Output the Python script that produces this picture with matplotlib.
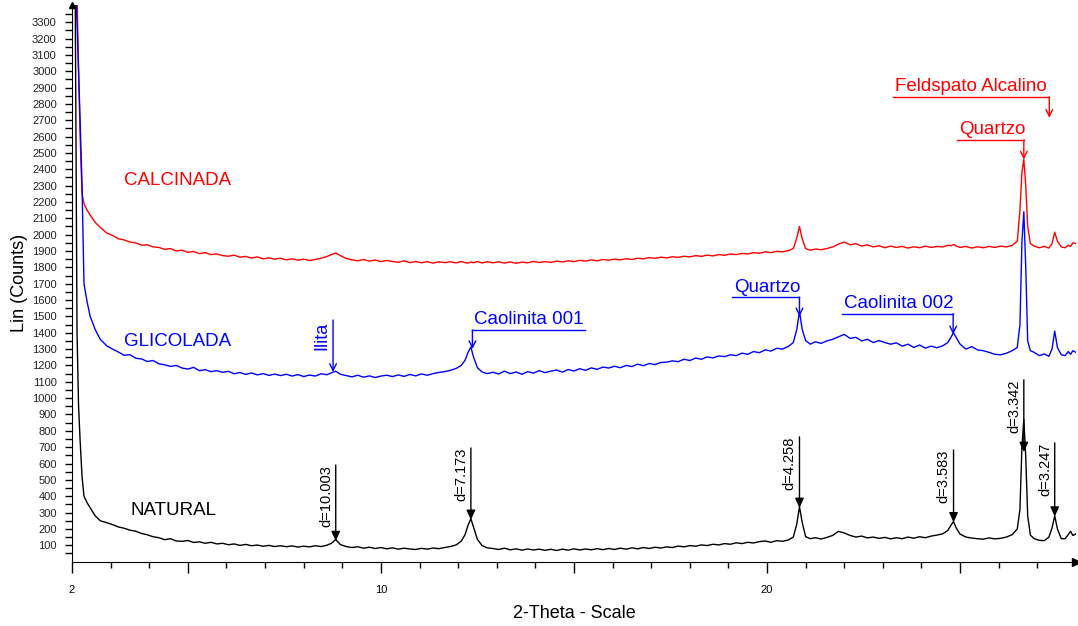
import numpy as np
import matplotlib
matplotlib.use('Agg')
import matplotlib.pyplot as plt

plt.rcParams['font.family'] = ['Liberation Sans', 'DejaVu Sans']

# 2-theta positions (deg), 10 per row
two_theta = [
    2.08, 2.13, 2.17, 2.21, 2.26, 2.31, 2.39, 2.47, 2.60, 2.73,
    2.90, 3.05, 3.20, 3.35, 3.50, 3.65, 3.80, 3.95, 4.10, 4.25,
    4.40, 4.55, 4.70, 4.85, 5.00, 5.15, 5.30, 5.45, 5.60, 5.75,
    5.90, 6.05, 6.20, 6.35, 6.50, 6.65, 6.80, 6.95, 7.10, 7.25,
    7.40, 7.55, 7.70, 7.85, 8.00, 8.15, 8.30, 8.45, 8.60, 8.72,
    8.83, 8.95, 9.10, 9.25, 9.40, 9.55, 9.70, 9.85, 10.00, 10.15,
    10.30, 10.45, 10.60, 10.75, 10.90, 11.05, 11.20, 11.35, 11.50, 11.65,
    11.80, 11.95, 12.08, 12.18, 12.26, 12.33, 12.40, 12.50, 12.62, 12.75,
    12.90, 13.05, 13.20, 13.35, 13.50, 13.65, 13.80, 13.95, 14.10, 14.25,
    14.40, 14.55, 14.70, 14.85, 15.00, 15.15, 15.30, 15.45, 15.60, 15.75,
    15.90, 16.05, 16.20, 16.35, 16.50, 16.65, 16.80, 16.95, 17.10, 17.25,
    17.40, 17.55, 17.70, 17.85, 18.00, 18.15, 18.30, 18.45, 18.60, 18.75,
    18.90, 19.05, 19.20, 19.35, 19.50, 19.65, 19.80, 19.95, 20.10, 20.25,
    20.40, 20.55, 20.68, 20.77, 20.84, 20.91, 21.00, 21.12, 21.25, 21.40,
    21.55, 21.70, 21.85, 22.00, 22.15, 22.30, 22.45, 22.60, 22.75, 22.90,
    23.05, 23.20, 23.35, 23.50, 23.65, 23.80, 23.95, 24.10, 24.25, 24.40,
    24.55, 24.68, 24.77, 24.83, 24.90, 25.00, 25.15, 25.30, 25.45, 25.60,
    25.75, 25.90, 26.05, 26.20, 26.35, 26.48, 26.55, 26.60, 26.65, 26.70,
    26.75, 26.82, 26.92, 27.05, 27.18, 27.30, 27.38, 27.45, 27.52, 27.62,
    27.72, 27.80, 27.86, 27.92, 28.00,
]

natural = [
    3600, 1400, 950, 740, 520, 400, 360, 330, 280, 250,
    238, 226, 212, 204, 192, 186, 172, 164, 152, 146,
    134, 140, 126, 124, 129, 117, 121, 112, 118, 108,
    112, 103, 108, 99, 105, 97, 101, 94, 99, 92,
    97, 91, 96, 89, 94, 90, 97, 92, 100, 112,
    135, 104, 92, 86, 91, 82, 88, 80, 86, 78,
    84, 76, 82, 77, 74, 81, 76, 83, 79, 86,
    92, 102, 125, 165, 225, 262, 210, 135, 98, 84,
    80, 74, 82, 72, 78, 70, 77, 71, 76, 69,
    75, 68, 76, 70, 78, 71, 77, 72, 79, 73,
    80, 74, 82, 76, 84, 78, 86, 80, 88, 83,
    90, 86, 95, 90, 98, 94, 102, 98, 106, 102,
    110, 106, 115, 110, 118, 114, 122, 126, 118, 128,
    124, 132, 150, 230, 335, 240, 152, 140, 146, 138,
    148, 160, 185, 175, 160, 150, 156, 145, 150, 142,
    148, 139, 146, 140, 150, 143, 152, 146, 156, 162,
    170, 190, 225, 245, 205, 168, 150, 144, 140, 137,
    145, 139, 142, 150, 165, 200, 320, 700, 870, 640,
    280, 162, 140, 130, 128, 150, 205, 280, 200, 140,
    140, 165, 185, 160, 170,
]

glicolada = [
    3600, 3300, 3000, 2700, 2300, 1700, 1590, 1500, 1420, 1360,
    1320, 1300, 1282, 1262, 1266, 1244, 1240, 1224, 1230, 1210,
    1204, 1194, 1200, 1184, 1178, 1188, 1168, 1174, 1162, 1168,
    1158, 1164, 1149, 1157, 1145, 1154, 1142, 1150, 1139, 1147,
    1138, 1146, 1135, 1144, 1132, 1141, 1135, 1149, 1143, 1155,
    1165, 1146, 1138, 1130, 1140, 1128, 1136, 1126, 1135, 1140,
    1132, 1142, 1133, 1145, 1136, 1148, 1140, 1150, 1157, 1162,
    1170, 1182, 1200, 1232, 1282, 1312, 1250, 1186, 1160, 1150,
    1158, 1148, 1165, 1150, 1160, 1146, 1162, 1153, 1168, 1156,
    1165, 1172, 1159, 1175, 1166, 1180, 1170, 1185, 1176, 1190,
    1184, 1195, 1186, 1200, 1193, 1208, 1198, 1212, 1205, 1218,
    1220, 1228, 1223, 1238, 1230, 1245, 1238, 1252, 1246, 1258,
    1254, 1265, 1260, 1275, 1268, 1285, 1278, 1295, 1288, 1305,
    1300, 1316, 1340, 1420, 1530, 1420, 1352, 1330, 1345, 1335,
    1350, 1360, 1375, 1390, 1365, 1372, 1350, 1360, 1340, 1352,
    1340, 1330, 1338, 1318, 1330, 1310, 1325, 1306, 1318, 1308,
    1320, 1340, 1375, 1400, 1370, 1330, 1300, 1315, 1295, 1290,
    1280, 1268, 1265, 1275, 1290, 1310, 1450, 1950, 2140, 1800,
    1350, 1290, 1280, 1260, 1270, 1256, 1300, 1410, 1310, 1265,
    1260, 1285, 1268, 1290, 1280,
]

calcinada = [
    3600, 3450, 3000, 2600, 2250, 2190, 2150, 2120, 2075, 2045,
    2010, 1995, 1975, 1968, 1955, 1950, 1936, 1938, 1925, 1922,
    1910, 1915, 1900, 1905, 1892, 1897, 1884, 1890, 1878, 1882,
    1872, 1868, 1875, 1862, 1867, 1857, 1864, 1852, 1858, 1850,
    1856, 1846, 1852, 1844, 1850, 1842, 1848, 1856, 1866, 1878,
    1888, 1872, 1855, 1846, 1840, 1848, 1838, 1845, 1835, 1842,
    1836, 1831, 1840, 1829, 1836, 1828, 1835, 1826, 1834, 1829,
    1834, 1827, 1836, 1829, 1826, 1833, 1828, 1836, 1827, 1834,
    1828, 1834, 1826, 1833, 1825, 1832, 1828, 1836, 1830, 1835,
    1830, 1838, 1833, 1840, 1835, 1843, 1838, 1846, 1840, 1848,
    1844, 1850, 1846, 1853, 1848, 1856, 1852, 1860, 1855, 1862,
    1858, 1865, 1861, 1868, 1864, 1872, 1867, 1875, 1870, 1878,
    1874, 1882, 1878, 1885, 1882, 1890, 1886, 1895, 1890, 1898,
    1895, 1902, 1915, 1980, 2050, 1975, 1915, 1905, 1912, 1908,
    1915, 1925, 1942, 1955, 1938, 1945, 1930, 1938, 1925, 1932,
    1920, 1930, 1922, 1928, 1918, 1926, 1920, 1930, 1922, 1928,
    1925, 1935, 1932, 1940, 1930, 1922, 1928, 1918, 1926, 1920,
    1928, 1922, 1930, 1925, 1935, 1960, 2150, 2380, 2460, 2300,
    2050, 1945, 1930, 1920, 1928, 1918, 1945, 2015, 1960, 1925,
    1920, 1935, 1928, 1950, 1945,
]

assert len(two_theta) == len(natural) == len(glicolada) == len(calcinada)

# d-spacing marks on the natural sample
d_pos = [8.83, 12.33, 20.84, 24.83, 26.65, 27.45]
d_top = [591, 695, 763, 683, 1112, 726]
d_tip = [125, 255, 328, 240, 670, 275]
d_text = ['d=10.003', 'd=7.173', 'd=4.258', 'd=3.583', 'd=3.342', 'd=3.247']

# mineral labels with leader lines
min_text = ['Caolinita 001', 'Quartzo', 'Caolinita 002', 'Feldspato Alcalino', 'Quartzo']
min_x0 = [12.37, 19.10, 21.95, 23.27, 24.93]
min_x1 = [15.29, 20.84, 24.82, 27.31, 26.65]
min_xa = [12.37, 20.84, 24.82, 27.31, 26.65]
min_y = [1417, 1618, 1516, 2843, 2580]
min_tip = [1300, 1500, 1390, 2715, 2460]
min_col = ['#0000ff', '#0000ff', '#0000ff', '#ff0000', '#ff0000']

fig = plt.figure(figsize=(10.78, 6.26), dpi=100)
ax = fig.add_axes([0.0668, 0.1029, 0.9313, 0.8891])

ax.plot(two_theta, calcinada, color='#ff0000', lw=1)
ax.plot(two_theta, glicolada, color='#0000ff', lw=1)
ax.plot(two_theta, natural, color='black', lw=1)

ax.set_xlim(2, 28)
ax.set_ylim(0, 3405)

# sample names
ax.text(3.35, 2329, 'CALCINADA', color='#ff0000', fontsize=13.5, va='center')
ax.text(3.35, 1344, 'GLICOLADA', color='#0000ff', fontsize=13.5, va='center')
ax.text(3.51, 310, 'NATURAL', color='black', fontsize=13.5, va='center')

# d marks
for x, yt, yb, s in zip(d_pos, d_top, d_tip, d_text):
    ax.annotate('', xy=(x, yb), xytext=(x, yt),
                arrowprops=dict(arrowstyle='-|>,head_length=0.55,head_width=0.25',
                                color='black', lw=1, shrinkA=0, shrinkB=0,
                                mutation_scale=10.5))
    ax.annotate(s, xy=(x, yt), xytext=(-2, 0), textcoords='offset points',
                rotation=90, ha='right', va='top', fontsize=10.5)

# Ilita
ax.annotate('', xy=(8.76, 1160), xytext=(8.76, 1478),
            arrowprops=dict(arrowstyle='->,head_length=0.4,head_width=0.2',
                            color='#0000ff', lw=1, shrinkA=0, shrinkB=0,
                            mutation_scale=12))
ax.annotate('Ilita', xy=(8.76, 1478), xytext=(-2, -1), textcoords='offset points',
            rotation=90, ha='right', va='top', fontsize=13, color='#0000ff')

for s, x0, x1, xa, y, yb, c in zip(min_text, min_x0, min_x1, min_xa, min_y, min_tip, min_col):
    ax.plot([x0, x1], [y, y], color=c, lw=1)
    ax.annotate('', xy=(xa, yb), xytext=(xa, y),
                arrowprops=dict(arrowstyle='->,head_length=0.4,head_width=0.2',
                                color=c, lw=1, shrinkA=0, shrinkB=0,
                                mutation_scale=12))
    ax.annotate(s, xy=(x0, y), xytext=(1, 4), textcoords='offset points',
                ha='left', va='baseline', fontsize=13.5, color=c)

# axes look
ax.spines['top'].set_visible(False)
ax.spines['right'].set_visible(False)
ax.plot(1, 0, '>k', ms=6, transform=ax.transAxes, clip_on=False)
ax.plot(0, 1, '^k', ms=5, transform=ax.transAxes, clip_on=False)

ax.set_xticks([2, 5, 10, 15, 20, 25])
ax.set_xticklabels(['2', '', '10', '', '20', ''])
ax.set_xticks(range(3, 28), minor=True)
ax.tick_params(axis='x', which='major', length=8, width=1, labelsize=8, pad=9)
ax.tick_params(axis='x', which='minor', length=4, width=1)
ax.set_yticks(range(100, 3400, 100))
ax.set_yticks(range(50, 3400, 100), minor=True)
ax.tick_params(axis='y', which='both', length=5, width=1, labelsize=8, pad=6, labelcolor='#222222')

ax.set_xlabel('2-Theta - Scale', fontsize=13, labelpad=7)
ax.set_ylabel('Lin (Counts)', fontsize=13, labelpad=3)

plt.savefig('out.png', dpi=100)
